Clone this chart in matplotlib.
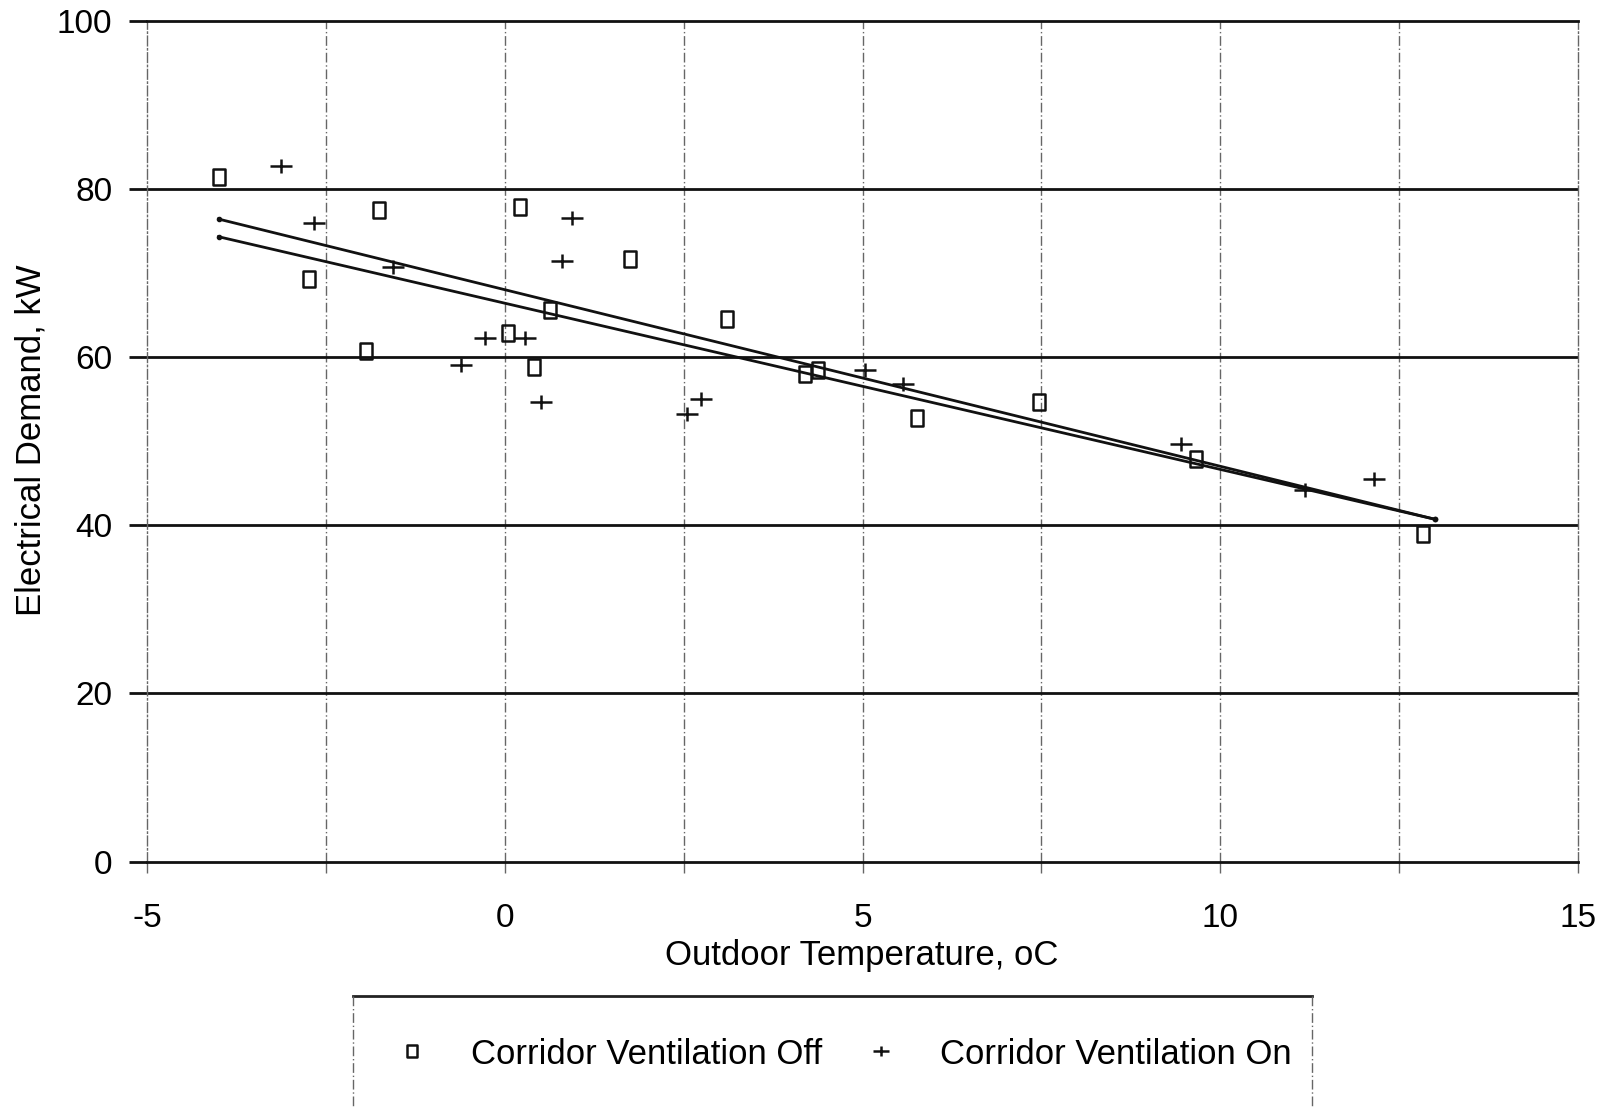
import matplotlib
matplotlib.use('Agg')
import matplotlib.pyplot as plt
import numpy as np
from matplotlib.path import Path
from matplotlib.lines import Line2D

# ---- data ----
off_temp = [-4.0, -1.76, -2.74, -1.94, 0.22, 1.75, 0.63, 0.05, 0.41, 3.1, 4.2, 4.38, 5.76, 7.46, 9.66, 12.83]
off_demand = [81.4, 77.5, 69.3, 60.7, 77.8, 71.7, 65.6, 62.9, 58.8, 64.5, 58.0, 58.5, 52.8, 54.6, 47.9, 39.0]
on_temp = [-3.13, -2.67, -1.56, -0.61, -0.27, 0.28, 0.5, 0.94, 0.8, 2.55, 2.74, 5.04, 5.56, 9.45, 11.19, 12.15]
on_demand = [82.7, 75.9, 70.7, 59.0, 62.3, 62.3, 54.7, 76.5, 71.4, 53.2, 55.0, 58.4, 56.8, 49.6, 44.2, 45.5]
fit_temp = [-4.0, 13.0]
fit_upper = [76.4, 40.7]
fit_lower = [74.3, 40.7]
x_ticks = [-5, 0, 5, 10, 15]
x_minor = [-2.5, 2.5, 7.5, 12.5]
y_ticks = [0, 20, 40, 60, 80, 100]
series_labels = ["Corridor Ventilation Off", "Corridor Ventilation On"]

plt.rcParams['font.family'] = ['Liberation Sans', 'DejaVu Sans']

W, H = 1614, 1109
fig = plt.figure(figsize=(W / 100, H / 100), dpi=100)
left, right, top, bottom = 147, 1578, 20.6, 861.5
ax = fig.add_axes([left / W, 1 - bottom / H, (right - left) / W, (bottom - top) / H])
ax.set_xlim(-5, 15)
ax.set_ylim(0, 100)

grid_style = dict(color='#666666', lw=1.0, ls=(0, (7, 2, 1, 2)))
for xv in x_ticks[1:-1] + x_minor:
    ax.axvline(xv, zorder=1, **grid_style)
for yv in y_ticks[1:-1]:
    ax.axhline(yv, color='#111111', lw=2.0, zorder=1)

for s in ['left', 'right']:
    ax.spines[s].set_color('#666666')
    ax.spines[s].set_linewidth(1.0)
    ax.spines[s].set_linestyle((0, (7, 2, 1, 2)))
for s in ['top', 'bottom']:
    ax.spines[s].set_color('#111111')
    ax.spines[s].set_linewidth(2.0)

square = Path([(-0.75, -1), (0.75, -1), (0.75, 1), (-0.75, 1), (-0.75, -1)],
              [Path.MOVETO, Path.LINETO, Path.LINETO, Path.LINETO, Path.CLOSEPOLY])
plus = Path([(-1, 0), (1, 0), (0, -0.6), (0, 0.6)],
            [Path.MOVETO, Path.LINETO, Path.MOVETO, Path.LINETO])

ax.plot(fit_temp, fit_upper, color='#111111', lw=2.0, marker='o', ms=3, zorder=3)
ax.plot(fit_temp, fit_lower, color='#111111', lw=2.0, marker='o', ms=3, zorder=3)

ax.plot(off_temp, off_demand, ls='none', marker=square, ms=12, mfc='none',
        mec='#111111', mew=1.8, zorder=4, label=series_labels[0])
ax.plot(on_temp, on_demand, ls='none', marker=plus, ms=16, mec='#111111',
        mew=1.8, zorder=4, label=series_labels[1])

ax.set_xticks(x_ticks)
ax.set_xticks(x_minor, minor=True)
ax.set_yticks(y_ticks)
ax.tick_params(axis='x', which='both', direction='out', length=8, width=1,
               color='#666666', pad=22, labelsize=24)
ax.tick_params(axis='y', which='major', direction='out', length=13, width=2,
               color='#111111', pad=12, labelsize=24)
ax.set_xticklabels([str(v) for v in x_ticks])
ax.set_yticklabels([str(v) for v in y_ticks])

fig.text(862 / W, 1 - 955 / H, "Outdoor Temperature, oC", ha='center', va='center', fontsize=25)
fig.text(31 / W, 1 - 440 / H, "Electrical Demand, kW", ha='center', va='center',
         rotation=90, fontsize=25)

# legend box
bx0, bx1, by0 = 353 / W, 1312 / W, 1 - 996 / H
fig.add_artist(Line2D([bx0, bx1], [by0, by0], transform=fig.transFigure, color='#222222', lw=2))
fig.add_artist(Line2D([bx0, bx0], [by0, 0], transform=fig.transFigure, **grid_style))
fig.add_artist(Line2D([bx1, bx1], [by0, 0], transform=fig.transFigure, **grid_style))

h, l = ax.get_legend_handles_labels()
fig.legend(h, l, ncol=2, loc='center', bbox_to_anchor=(843 / W, 1 - 1054 / H),
           frameon=False, fontsize=25, handlelength=1.0, handletextpad=1.2,
           columnspacing=1.2, markerscale=0.75)

fig.savefig('out.png', dpi=100)
